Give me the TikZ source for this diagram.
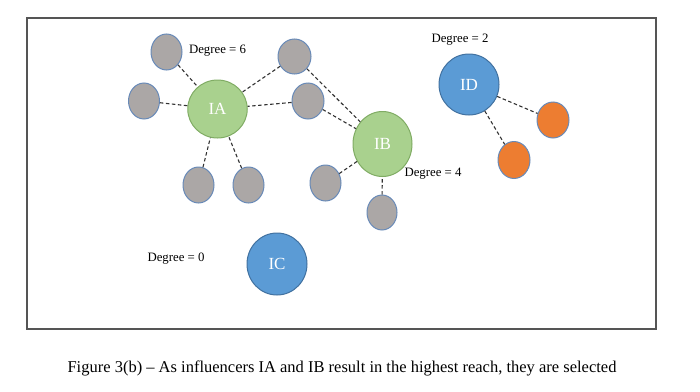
\documentclass[tikz,border=0pt]{standalone}
\usepackage{fontspec}
\setmainfont{Liberation Serif}
\usetikzlibrary{shapes.geometric}
\definecolor{grayfill}{RGB}{171,167,166}
\definecolor{grayborder}{RGB}{104,138,184}
\definecolor{greenfill}{RGB}{169,209,142}
\definecolor{greenborder}{RGB}{128,172,100}
\definecolor{bluefill}{RGB}{91,155,213}
\definecolor{blueborder}{RGB}{65,113,160}
\definecolor{orangefill}{RGB}{237,125,49}
\definecolor{edgecol}{RGB}{50,50,50}
\definecolor{framecol}{RGB}{85,85,85}
\tikzset{
  peer/.style={ellipse, draw=grayborder, fill=grayfill, line width=1pt, inner sep=0pt, minimum width=31pt, minimum height=36pt},
  orangepeer/.style={peer, fill=orangefill},
  greeninf/.style={ellipse, draw=greenborder, fill=greenfill, line width=1pt, inner sep=0pt, text=white, font=\fontsize{17}{19}\selectfont},
  blueinf/.style={ellipse, draw=blueborder, fill=bluefill, line width=1pt, inner sep=0pt, text=white, font=\fontsize{17}{19}\selectfont},
  deglabel/.style={font=\fontsize{12.8}{14}\selectfont, inner sep=0pt},
  link/.style={draw=edgecol, line width=1.1pt, dash pattern=on 3.5pt off 2.5pt}
}
\begin{document}
\begin{tikzpicture}[x=1pt,y=-1pt]
\useasboundingbox (0,0) rectangle (700,391);
\draw[framecol, line width=1.5pt] (27,18) rectangle (656,329);
% influencers
\node[greeninf, minimum width=59.5pt, minimum height=58pt] (IA) at (217.5,109) {IA};
\node[greeninf, minimum width=59pt, minimum height=65pt] (IB) at (382.5,144) {IB};
\node[blueinf, minimum width=60pt, minimum height=61pt] (ID) at (469,84.5) {ID};
\node[blueinf, minimum width=60pt, minimum height=62pt] (IC) at (277,264) {IC};
% peers
\node[peer] (g1) at (166.5,52) {};
\node[peer] (g2) at (144,101) {};
\node[peer, minimum width=33pt, minimum height=35pt] (g3) at (294.5,56.5) {};
\node[peer, minimum width=32pt] (g4) at (308,101) {};
\node[peer] (g5) at (198.5,185) {};
\node[peer] (g6) at (248.5,185) {};
\node[peer] (g7) at (325.5,183) {};
\node[peer, minimum width=30pt, minimum height=35pt] (g8) at (382,212.5) {};
\node[orangepeer, minimum width=32pt] (o1) at (553,120) {};
\node[orangepeer, minimum width=32pt, minimum height=37pt] (o2) at (514,160) {};
% labels
\node[deglabel] (d6) at (217.5,50.5) {Degree = 6};
\node[deglabel] (d2) at (460,40) {Degree = 2};
\node[deglabel] (d4) at (433,174) {Degree = 4};
\node[deglabel] (d0) at (176,259) {Degree = 0};
% links
\draw[link] (g1) -- (IA);
\draw[link] (g2) -- (IA);
\draw[link] (g3) -- (IA);
\draw[link] (g4) -- (IA);
\draw[link] (g5) -- (IA);
\draw[link] (g6) -- (IA);
\draw[link] (g3) -- (IB);
\draw[link] (g4) -- (IB);
\draw[link] (g7) -- (IB);
\draw[link] (g8) -- (IB);
\draw[link] (ID) -- (o1);
\draw[link] (ID) -- (o2);
% caption
\node[font=\fontsize{16.5}{19}\selectfont, inner sep=0pt] (cap) at (342,368) {Figure 3(b) -- As influencers IA and IB result in the highest reach, they are selected};
\end{tikzpicture}
\end{document}
